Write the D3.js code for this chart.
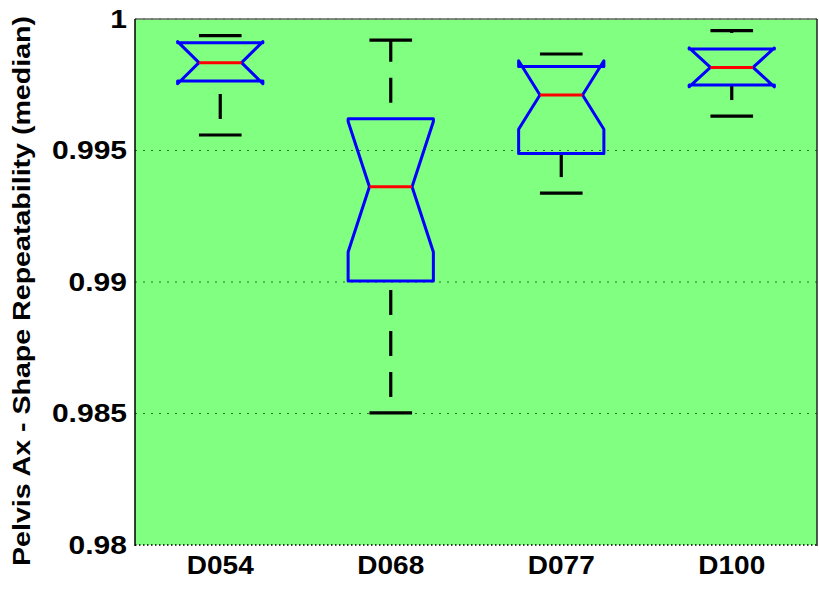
<!DOCTYPE html>
<html><head><meta charset="utf-8">
<script src="https://cdn.jsdelivr.net/npm/d3@7"></script>
<style>body{margin:0;background:#fff}svg{display:block}text{font-family:"Liberation Sans",Arial,sans-serif;font-weight:bold;fill:#000}</style>
</head><body><svg id="c" width="819" height="589"></svg>
<script>
const categories = ["D054","D068","D077","D100"];
const whiskerLo = [0.99559,0.98502,0.99338,0.99631];
const q1 = [0.99764,0.99004,0.99489,0.99749];
const median = [0.99834,0.99362,0.99711,0.99816];
const q3 = [0.99910,0.99621,0.99819,0.99886];
const whiskerHi = [0.99937,0.99920,0.99867,0.99956];
const notchHalf = [0.00080,0.00248,0.00130,0.00074];
const yTicks = [0.98,0.985,0.99,0.995,1];
const yTickLabels = ["0.98","0.985","0.99","0.995","1"];
const yTitle = "Pelvis Ax - Shape Repeatability (median)";

const svg = d3.select("#c");
const L=135, R=817, T=19, B=545;
const x = d3.scaleLinear().domain([0.5,4.5]).range([L,R]);
const y = d3.scaleLinear().domain([0.98,1]).range([B,T]);

svg.append("rect").attr("x",L).attr("y",T).attr("width",R-L).attr("height",B-T).attr("fill","#80FF80");

// grid
svg.append("g").selectAll("line").data(yTicks.filter(v=>v>0.98)).join("line")
  .attr("x1",L).attr("x2",R).attr("y1",d=>y(d)).attr("y2",d=>y(d))
  .attr("stroke","#1f7a1f").attr("stroke-width",1).attr("stroke-dasharray","2,6");

// borders
svg.append("line").attr("x1",L).attr("x2",R).attr("y1",T).attr("y2",T).attr("stroke","#666").attr("stroke-width",1.5);
svg.append("line").attr("x1",L).attr("x2",R).attr("y1",B).attr("y2",B).attr("stroke","#000").attr("stroke-width",1.5).attr("stroke-dasharray","1.5,2.5");
svg.append("line").attr("x1",L).attr("x2",L).attr("y1",T).attr("y2",B+1).attr("stroke","#000").attr("stroke-width",1.5);
svg.append("line").attr("x1",R).attr("x2",R).attr("y1",T).attr("y2",B+1).attr("stroke","#222").attr("stroke-width",1.5);

// y tick labels
svg.append("g").selectAll("text").data(yTicks).join("text")
  .attr("transform",d=>`translate(127,${y(d)}) scale(1.2,1)`).attr("text-anchor","end").attr("dominant-baseline","central")
  .attr("font-size",25).text((d,i)=>yTickLabels[i]);

// x labels
svg.append("g").selectAll("text").data(categories).join("text")
  .attr("transform",(d,i)=>`translate(${x(i+1)},566) scale(1.12,1)`).attr("text-anchor","middle").attr("dominant-baseline","central")
  .attr("font-size",25).text(d=>d);

// y title
svg.append("text").attr("transform","translate(30,291) rotate(-90)").attr("text-anchor","middle")
  .attr("font-size",24).attr("textLength",550).attr("lengthAdjust","spacingAndGlyphs").text(yTitle);

const bw = 0.25, nw = 0.125, cw = 0.125;
const g = svg.append("g");
categories.forEach((c,i)=>{
  const cx = i+1;
  g.append("line").attr("x1",x(cx)).attr("x2",x(cx)).attr("y1",y(whiskerLo[i])).attr("y2",y(q1[i]))
    .attr("stroke","#000").attr("stroke-width",3.2).attr("stroke-dasharray","25,16").attr("stroke-dashoffset",25);
  g.append("line").attr("x1",x(cx)).attr("x2",x(cx)).attr("y1",y(q3[i])).attr("y2",y(whiskerHi[i]))
    .attr("stroke","#000").attr("stroke-width",3.2).attr("stroke-dasharray","25,16").attr("stroke-dashoffset",25);
  [whiskerLo[i],whiskerHi[i]].forEach(v=>{
    g.append("line").attr("x1",x(cx-cw)).attr("x2",x(cx+cw)).attr("y1",y(v)).attr("y2",y(v))
      .attr("stroke","#000").attr("stroke-width",3.2);
  });
  const nlo = median[i]-notchHalf[i], nhi = median[i]+notchHalf[i];
  const pts = [[cx-bw,q1[i]],[cx-bw,nlo],[cx-nw,median[i]],[cx-bw,nhi],[cx-bw,q3[i]],
               [cx+bw,q3[i]],[cx+bw,nhi],[cx+nw,median[i]],[cx+bw,nlo],[cx+bw,q1[i]]];
  g.append("path").attr("d",d3.line().x(p=>x(p[0])).y(p=>y(p[1]))(pts)+"Z")
    .attr("fill","none").attr("stroke","#0000FF").attr("stroke-width",3).attr("stroke-linejoin","round");
  g.append("line").attr("x1",x(cx-nw)).attr("x2",x(cx+nw)).attr("y1",y(median[i])).attr("y2",y(median[i]))
    .attr("stroke","#FF0000").attr("stroke-width",3);
});
</script></body></html>
